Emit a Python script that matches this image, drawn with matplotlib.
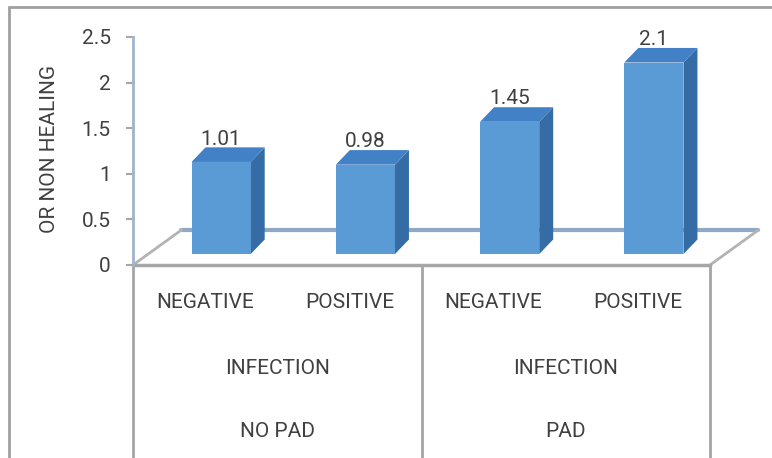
import matplotlib.pyplot as plt
from matplotlib.patches import Rectangle, Polygon

# chart data
categories = ['NEGATIVE', 'POSITIVE', 'NEGATIVE', 'POSITIVE']
values = [1.01, 0.98, 1.45, 2.1]
value_labels = ['1.01', '0.98', '1.45', '2.1']
middle_labels = ['INFECTION', 'INFECTION']
group_labels = ['NO PAD', 'PAD']
y_ticks = [0, 0.5, 1, 1.5, 2, 2.5]
y_tick_labels = ['0', '0.5', '1', '1.5', '2', '2.5']

plt.rcParams['font.family'] = ['Roboto', 'DejaVu Sans']
txt_color = '#404040'
fs = 15

fig = plt.figure(figsize=(7.72, 4.58), dpi=100)
ax = fig.add_axes([133 / 772, (458 - 265) / 458, 577 / 772, 228 / 458])
ax.set_xlim(-0.5, 3.5)
ax.set_ylim(0, 2.5)

# fake 3d geometry (data units)
floor_dx, floor_dy = 0.336, 0.384
bar_w = 0.41
bar_off_x, bar_off_y = 0.111, 0.12
side_dx, side_dy = 0.097, 0.16

front_c = '#5B9BD5'
top_c = '#4381C6'
side_c = '#366CA6'

# floor
x0, x1 = -0.5, 3.5
ax.plot([x0 + floor_dx, x1 + floor_dx], [floor_dy, floor_dy], color='#8FA8C4', lw=3,
        clip_on=False, zorder=1, solid_capstyle='round')
ax.plot([x0, x0 + floor_dx], [0, floor_dy], color='#B3B3B3', lw=2, clip_on=False, zorder=1)
ax.plot([x1, x1 + floor_dx], [0, floor_dy], color='#B3B3B3', lw=2, clip_on=False, zorder=1)
ax.plot([x0, x1], [0, 0], color='#A6A6A6', lw=2.5, clip_on=False, zorder=1)

# bars
for i, v in enumerate(values):
    bx = i - bar_w / 2 + bar_off_x
    by = bar_off_y
    top = by + v
    ax.add_patch(Polygon([(bx + bar_w, by), (bx + bar_w + side_dx, by + side_dy),
                          (bx + bar_w + side_dx, top + side_dy), (bx + bar_w, top)],
                         closed=True, facecolor=side_c, edgecolor='none', zorder=3, clip_on=False))
    ax.add_patch(Polygon([(bx, top), (bx + bar_w, top), (bx + bar_w + side_dx, top + side_dy),
                          (bx + side_dx, top + side_dy)],
                         closed=True, facecolor=top_c, edgecolor='none', zorder=3, clip_on=False))
    ax.add_patch(Rectangle((bx, by), bar_w, v, facecolor=front_c, edgecolor='none',
                           zorder=4, clip_on=False))
    ax.text(i + bar_off_x, top + 0.19, value_labels[i], ha='center', va='baseline',
            fontsize=fs, color=txt_color, zorder=5)

# axes styling
for s in ['top', 'right', 'bottom']:
    ax.spines[s].set_visible(False)
ax.spines['left'].set_color('#A0B4CC')
ax.spines['left'].set_linewidth(2)
ax.set_xticks([])
ax.set_yticks(y_ticks)
ax.set_yticklabels(y_tick_labels)
ax.tick_params(axis='y', direction='out', length=5, width=1.5, color='#A6A6A6',
               pad=11, labelsize=fs, labelcolor=txt_color)
ax.patch.set_alpha(0)

# multi level category axis
for xs in [-0.5, 1.5, 3.5]:
    ax.plot([xs, xs], [0, -2.3], color='#A6A6A6', lw=2, clip_on=False, zorder=1)
for i, c in enumerate(categories):
    ax.text(i, -0.41, c, ha='center', va='center', fontsize=fs, color=txt_color, clip_on=False)
for j, lab in enumerate(middle_labels):
    ax.text(2 * j + 0.5, -1.13, lab, ha='center', va='center', fontsize=fs, color=txt_color)
for j, lab in enumerate(group_labels):
    ax.text(2 * j + 0.5, -1.83, lab, ha='center', va='center', fontsize=fs, color=txt_color)

fig.text(50 / 772, 1 - 149 / 458, 'OR NON HEALING', rotation=90, ha='center', va='center',
         fontsize=fs, color=txt_color)

# chart border
fig.add_artist(Rectangle((9 / 772, -0.1), 1.2, 1.1 - 7 / 458, transform=fig.transFigure,
                         fill=False, edgecolor='#A0A0A0', lw=2))

fig.savefig('out.png', dpi=100)
